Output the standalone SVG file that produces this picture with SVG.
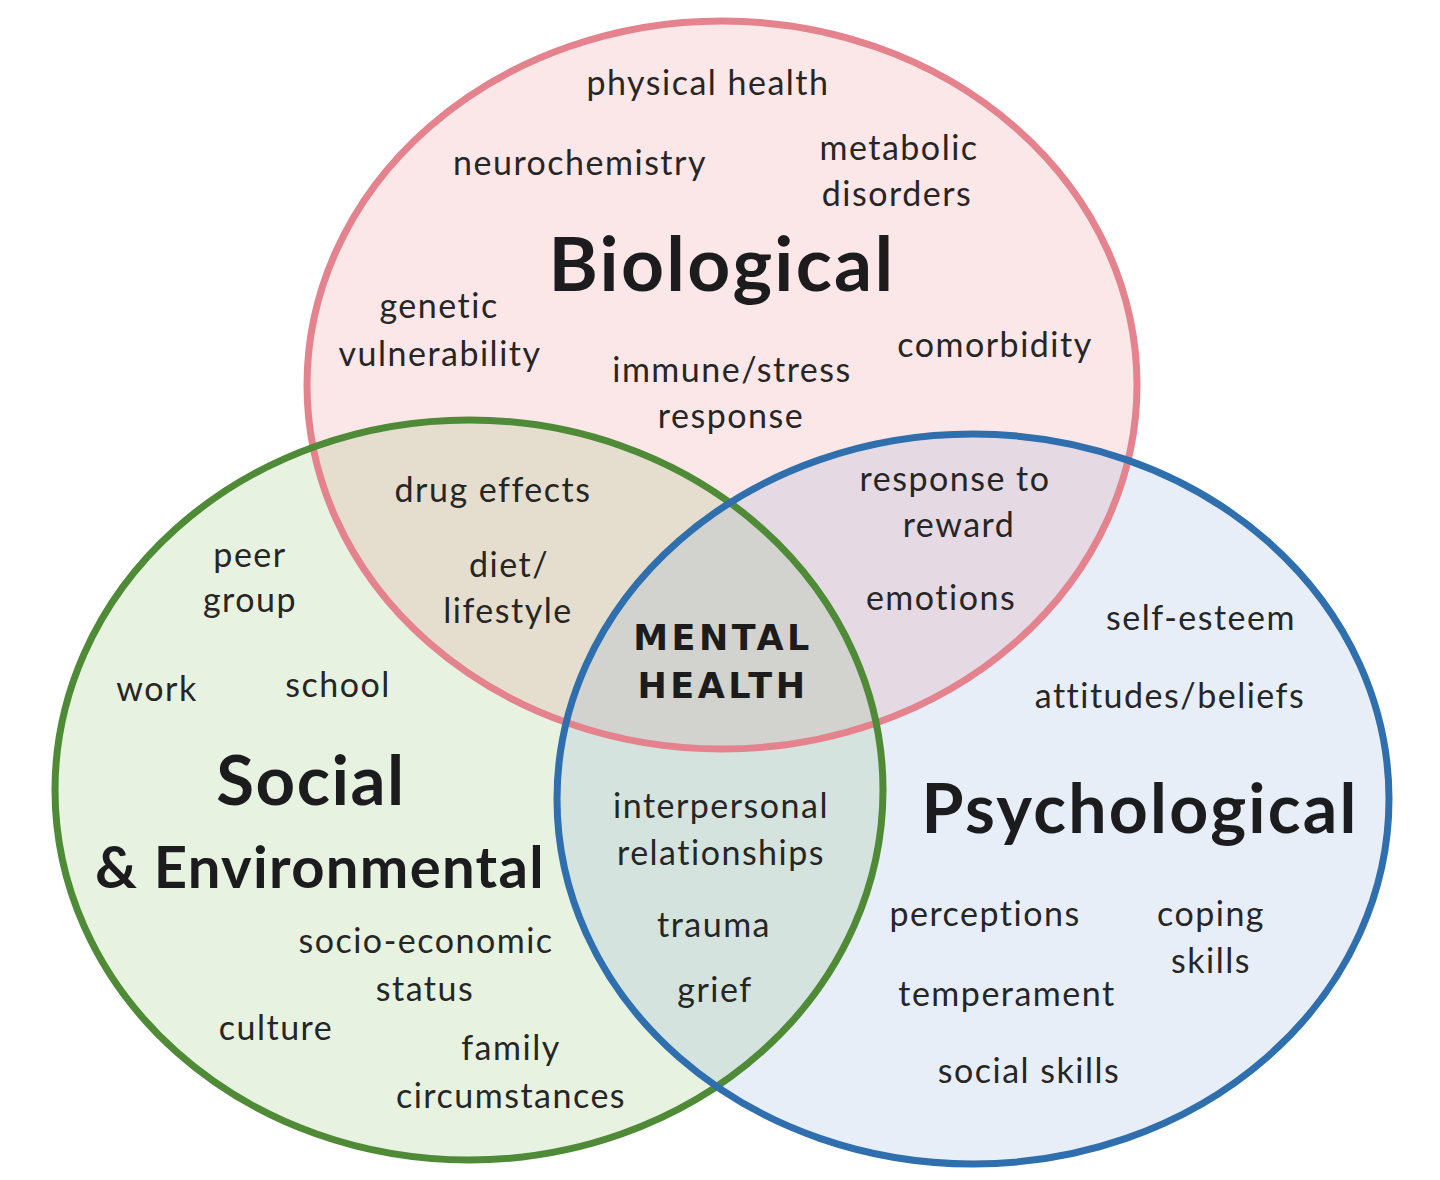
<svg xmlns="http://www.w3.org/2000/svg" width="1440" height="1180" viewBox="0 0 1440 1180">
<style>
  .lbl { font-family: Lato, "Open Sans", "Liberation Sans", sans-serif; font-size: 34px; letter-spacing: 1.5px; fill: #262626; text-anchor: middle; }
  .ttl { font-family: Lato, "Open Sans", "Liberation Sans", sans-serif; font-weight: bold; fill: #1c1c1e; text-anchor: middle; }
  .mh { font-family: "DejaVu Sans", "Liberation Sans", sans-serif; font-weight: bold; font-size: 35px; fill: #1c1c1c; text-anchor: middle; letter-spacing: 3.5px; }
  .ring { stroke-width: 7; fill: none; }
</style>
<rect width="1440" height="1180" fill="#ffffff"/>
<g id="circles">
  <g id="biological-circle">
    <ellipse cx="722" cy="385" rx="415" ry="364" fill="rgb(240,120,130)" fill-opacity="0.18"/>
  </g>
  <g id="social-circle">
    <ellipse cx="469" cy="790" rx="414" ry="370" fill="rgb(120,180,80)" fill-opacity="0.17"/>
  </g>
  <g id="psychological-circle">
    <ellipse cx="973" cy="799" rx="416" ry="365" fill="rgb(100,140,210)" fill-opacity="0.15"/>
  </g>
  <ellipse class="ring" cx="722" cy="385" rx="415" ry="364" stroke="#e4838e"/>
  <ellipse class="ring" cx="469" cy="790" rx="414" ry="370" stroke="#4f8a37"/>
  <ellipse class="ring" cx="973" cy="799" rx="416" ry="365" stroke="#2f6fae"/>
</g>
<g id="biological-labels">
  <text class="ttl" x="722" y="291" font-size="75" letter-spacing="2.3">Biological</text>
  <text class="lbl" x="708" y="95">physical health</text>
  <text class="lbl" x="580" y="175">neurochemistry</text>
  <text class="lbl" x="899" y="160">metabolic</text>
  <text class="lbl" x="897" y="206">disorders</text>
  <text class="lbl" x="439" y="318">genetic</text>
  <text class="lbl" x="440" y="366">vulnerability</text>
  <text class="lbl" x="732" y="382">immune/stress</text>
  <text class="lbl" x="731" y="428">response</text>
  <text class="lbl" x="995" y="357">comorbidity</text>
</g>
<g id="bio-social-labels">
  <text class="lbl" x="493" y="502">drug effects</text>
  <text class="lbl" x="509" y="577">diet/</text>
  <text class="lbl" x="508" y="623">lifestyle</text>
</g>
<g id="bio-psych-labels">
  <text class="lbl" x="955" y="491">response to</text>
  <text class="lbl" x="959" y="537">reward</text>
  <text class="lbl" x="941" y="610">emotions</text>
</g>
<g id="mental-health">
  <text class="mh" x="723" y="650">MENTAL</text>
  <text class="mh" x="723" y="698">HEALTH</text>
</g>
<g id="social-labels">
  <text class="ttl" x="311" y="805" font-size="69" letter-spacing="1.5">Social</text>
  <text class="ttl" x="320" y="888" font-size="58" letter-spacing="1.3">&amp; Environmental</text>
  <text class="lbl" x="250" y="567">peer</text>
  <text class="lbl" x="250" y="612">group</text>
  <text class="lbl" x="157" y="701">work</text>
  <text class="lbl" x="338" y="697">school</text>
  <text class="lbl" x="426" y="953">socio-economic</text>
  <text class="lbl" x="425" y="1001">status</text>
  <text class="lbl" x="276" y="1040">culture</text>
  <text class="lbl" x="511" y="1060">family</text>
  <text class="lbl" x="511" y="1108">circumstances</text>
</g>
<g id="social-psych-labels">
  <text class="lbl" x="721" y="818">interpersonal</text>
  <text class="lbl" x="721" y="865">relationships</text>
  <text class="lbl" x="714" y="937">trauma</text>
  <text class="lbl" x="715" y="1002">grief</text>
</g>
<g id="psychological-labels">
  <text class="ttl" x="1140" y="833" font-size="68" letter-spacing="2.2">Psychological</text>
  <text class="lbl" x="1201" y="630">self-esteem</text>
  <text class="lbl" x="1170" y="708">attitudes/beliefs</text>
  <text class="lbl" x="985" y="926">perceptions</text>
  <text class="lbl" x="1211" y="926">coping</text>
  <text class="lbl" x="1211" y="973">skills</text>
  <text class="lbl" x="1007" y="1006">temperament</text>
  <text class="lbl" x="1029" y="1083">social skills</text>
</g>
<g id="connectors"></g>
</svg>
